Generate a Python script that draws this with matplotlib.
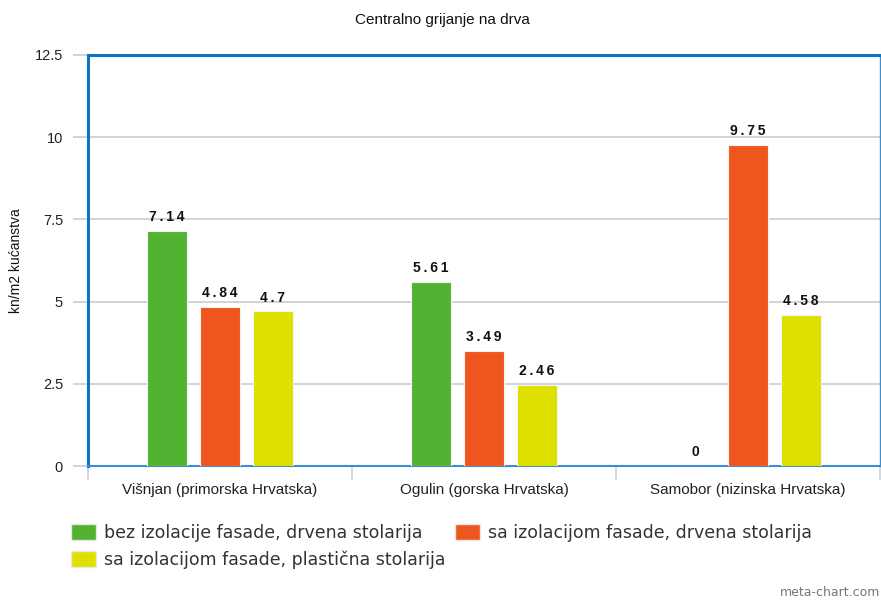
import matplotlib
matplotlib.use("Agg")
import matplotlib.pyplot as plt
from matplotlib.patches import Patch
import numpy as np

categories = ["Višnjan (primorska Hrvatska)", "Ogulin (gorska Hrvatska)", "Samobor (nizinska Hrvatska)"]
series_names = ["bez izolacije fasade, drvena stolarija",
                "sa izolacijom fasade, drvena stolarija",
                "sa izolacijom fasade, plastična stolarija"]
values_green = [7.14, 5.61, 0]
values_orange = [4.84, 3.49, 9.75]
values_yellow = [4.7, 2.46, 4.58]
yticks = [0, 2.5, 5, 7.5, 10, 12.5]
ytick_labels = ["0", "2.5", "5", "7.5", "10", "12.5"]

colors = ["#52b232", "#ee561e", "#dee000"]
W, H = 881, 601
fig = plt.figure(figsize=(W/100, H/100), dpi=100)
ax = fig.add_axes([88/W, (H-466)/H, (880-88)/W, (466-55)/H])

x = np.arange(len(categories))
bw = 0.152
off = 0.2
series = [values_green, values_orange, values_yellow]
for i, vals in enumerate(series):
    xs = x + (i-1)*off
    ax.bar(xs, vals, width=bw, color=colors[i], edgecolor="#f4f4f4", linewidth=0.8, zorder=3)
    for xi, v in zip(xs, vals):
        lab = "\u2009".join("%g" % v)
        ax.annotate(lab, (xi, v), xytext=(0, 5), textcoords="offset points",
                    ha="center", va="bottom", fontsize=10, fontweight="bold",
                    family=["Liberation Sans", "DejaVu Sans"], color="#111111")

ax.set_xlim(-0.5, 2.5)
ax.set_ylim(0, 12.5)
ax.set_yticks(yticks)
ax.set_yticklabels(ytick_labels, family="Liberation Sans", fontsize=10.5, color="#222222")
ax.yaxis.grid(True, color="#cccccc", linewidth=1.2, zorder=0)
ax.tick_params(axis="y", length=11, color="#c0cfdc", width=1.2, pad=7)

ax.set_xticks([-0.5, 0.5, 1.5, 2.5])
ax.set_xticklabels([])
ax.tick_params(axis="x", which="major", length=10, color="#c8d4de", width=1.2)
ax.set_xticks(x, minor=True)
ax.set_xticklabels(categories, minor=True, family="Liberation Sans", fontsize=11, color="#222222")
ax.tick_params(axis="x", which="minor", length=0, pad=12)

blue = "#0a74c8"
ax.spines["left"].set_color(blue); ax.spines["left"].set_linewidth(2.2)
ax.spines["top"].set_color(blue); ax.spines["top"].set_linewidth(2.2)
ax.spines["right"].set_color("#3d8fd4"); ax.spines["right"].set_linewidth(1.0)
ax.spines["bottom"].set_color("#3f8ccc"); ax.spines["bottom"].set_linewidth(1.5)

ax.set_ylabel("kn/m2 kućanstva", family="Liberation Sans", fontsize=10, color="#111111")
ax.yaxis.set_label_coords(-(88-23)/(880-88), 0.5)

fig.text(442/W, 1-20/H, "Centralno grijanje na drva", ha="center", va="center",
         family="Liberation Sans", fontsize=11, color="#111111")

handles = [Patch(facecolor=colors[0], edgecolor="#e8e8e8"),
           Patch(facecolor=colors[2], edgecolor="#e8e8e8"),
           Patch(facecolor=colors[1], edgecolor="#e8e8e8")]
labels = [series_names[0], series_names[2], series_names[1]]
leg = fig.legend(handles, labels, ncol=2, loc="upper left",
                 bbox_to_anchor=(64/W, 1-517/H), frameon=False,
                 prop={"family": "DejaVu Sans", "size": 12.5},
                 handlelength=1.45, handleheight=1.05, handletextpad=0.45,
                 columnspacing=0.55, labelspacing=0.5, borderaxespad=0)
for t in leg.get_texts():
    t.set_color("#333333")

fig.text(880/W, 1-592/H, "meta-chart.com", ha="right", va="center",
         family="DejaVu Sans", fontsize=9, color="#777777")

fig.savefig("out.png", dpi=100)
